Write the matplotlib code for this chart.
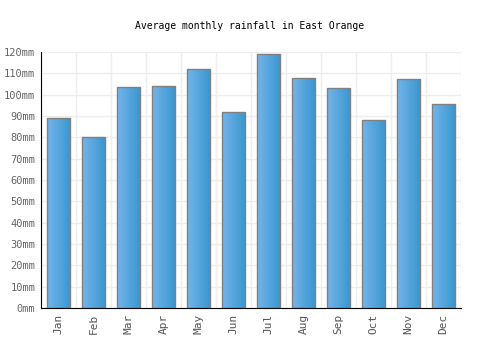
import numpy as np
import matplotlib.pyplot as plt
from matplotlib.colors import LinearSegmentedColormap

months = ['Jan', 'Feb', 'Mar', 'Apr', 'May', 'Jun', 'Jul', 'Aug', 'Sep', 'Oct', 'Nov', 'Dec']
rainfall = [88.9, 80.0, 103.5, 103.9, 112.3, 91.7, 118.9, 108.1, 103.0, 88.0, 107.2, 95.5]
yticks = list(range(0, 121, 10))
ylabels = ['%dmm' % v for v in yticks]

plt.rcParams['font.family'] = 'DejaVu Sans Mono'

fig = plt.figure(figsize=(5, 3.5), dpi=100)
ax = fig.add_axes([0.082, 0.12, 0.84, 0.731])

x = np.arange(len(months))
bars = ax.bar(x, rainfall, width=0.66, color='none', edgecolor='#808080', linewidth=1, zorder=3)

# horizontal gradient inside each bar
cmap = LinearSegmentedColormap.from_list('bar', ['#74b4ea', '#3896cf'])
grad = np.linspace(0, 1, 64).reshape(1, -1)
for b in bars:
    x0, w, h = b.get_x(), b.get_width(), b.get_height()
    im = ax.imshow(grad, cmap=cmap, aspect='auto', extent=(x0, x0 + w, 0, h), zorder=2)
    im.set_clip_path(b)

ax.set_xlim(-0.5, len(months) - 0.5)
ax.set_ylim(0, 120)
ax.set_xticks(x)
ax.set_xticklabels(months, rotation=90, fontsize=8, color='#555555')
ax.set_yticks(yticks)
ax.set_yticklabels(ylabels, fontsize=7.5, color='#666666')
ax.tick_params(length=0, pad=4)

ax.set_xticks(np.arange(-0.5, len(months)), minor=True)
ax.grid(True, which='minor', axis='x', color='#eeeeee', linewidth=1, zorder=0)
ax.grid(True, which='major', axis='y', color='#eeeeee', linewidth=1, zorder=0)
ax.tick_params(which='minor', length=0)

ax.spines['top'].set_visible(False)
ax.spines['right'].set_visible(False)
ax.spines['left'].set_color('black')
ax.spines['bottom'].set_color('black')

fig.text(0.5, 0.926, 'Average monthly rainfall in East Orange', ha='center', va='center',
         fontsize=7, color='#000000')

fig.savefig('out.png', dpi=100)
